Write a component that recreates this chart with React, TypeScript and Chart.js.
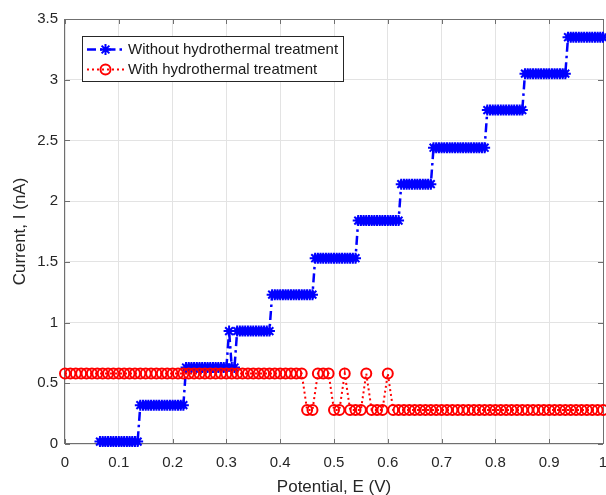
import React, { useEffect, useRef } from 'react';
import { Chart, registerables } from 'chart.js';
import { drawPoint } from 'chart.js/helpers';

Chart.register(...registerables);

// Series names shown in the legend
const seriesNames = ['Without hydrothermal treatment', 'With hydrothermal treatment'];

// Without hydrothermal treatment: potential (V) and current (nA)
const blueE = [
  0.065, 0.07, 0.075, 0.08, 0.085, 0.09, 0.095, 0.1, 0.105, 0.11, 0.115, 0.12, 0.125, 0.13, 0.135,
  0.14, 0.145, 0.15, 0.155, 0.16, 0.165, 0.17, 0.175, 0.18, 0.185, 0.19, 0.195, 0.2, 0.205, 0.21, 0.215, 0.22,
  0.225, 0.23, 0.235, 0.24, 0.245, 0.25, 0.255, 0.26, 0.265, 0.27, 0.275, 0.28, 0.285, 0.29, 0.295, 0.3,
  0.305, 0.31, 0.315,
  0.32, 0.325, 0.33, 0.335, 0.34, 0.345, 0.35, 0.355, 0.36, 0.365, 0.37, 0.375, 0.38,
  0.385, 0.39, 0.395, 0.4, 0.405, 0.41, 0.415, 0.42, 0.425, 0.43, 0.435, 0.44, 0.445, 0.45, 0.455, 0.46,
  0.465, 0.47, 0.475, 0.48, 0.485, 0.49, 0.495, 0.5, 0.505, 0.51, 0.515, 0.52, 0.525, 0.53, 0.535, 0.54,
  0.545, 0.55, 0.555, 0.56, 0.565, 0.57, 0.575, 0.58, 0.585, 0.59, 0.595, 0.6, 0.605, 0.61, 0.615, 0.62,
  0.625, 0.63, 0.635, 0.64, 0.645, 0.65, 0.655, 0.66, 0.665, 0.67, 0.675, 0.68,
  0.685, 0.69, 0.695, 0.7, 0.705, 0.71, 0.715, 0.72, 0.725, 0.73, 0.735, 0.74, 0.745, 0.75, 0.755, 0.76, 0.765, 0.77, 0.775, 0.78,
  0.785, 0.79, 0.795, 0.8, 0.805, 0.81, 0.815, 0.82, 0.825, 0.83, 0.835, 0.84, 0.845, 0.85,
  0.855, 0.86, 0.865, 0.87, 0.875, 0.88, 0.885, 0.89, 0.895, 0.9, 0.905, 0.91, 0.915, 0.92, 0.925, 0.93,
  0.935, 0.94, 0.945, 0.95, 0.955, 0.96, 0.965, 0.97, 0.975, 0.98, 0.985, 0.99, 0.995, 1.0,
];
const blueI = [
  0.02, 0.02, 0.02, 0.02, 0.02, 0.02, 0.02, 0.02, 0.02, 0.02, 0.02, 0.02, 0.02, 0.02, 0.02,
  0.32, 0.32, 0.32, 0.32, 0.32, 0.32, 0.32, 0.32, 0.32, 0.32, 0.32, 0.32, 0.32, 0.32, 0.32, 0.32, 0.32,
  0.63, 0.63, 0.63, 0.63, 0.63, 0.63, 0.63, 0.63, 0.63, 0.63, 0.63, 0.63, 0.63, 0.63, 0.63, 0.63,
  0.93, 0.63, 0.63,
  0.93, 0.93, 0.93, 0.93, 0.93, 0.93, 0.93, 0.93, 0.93, 0.93, 0.93, 0.93, 0.93,
  1.23, 1.23, 1.23, 1.23, 1.23, 1.23, 1.23, 1.23, 1.23, 1.23, 1.23, 1.23, 1.23, 1.23, 1.23, 1.23,
  1.53, 1.53, 1.53, 1.53, 1.53, 1.53, 1.53, 1.53, 1.53, 1.53, 1.53, 1.53, 1.53, 1.53, 1.53, 1.53,
  1.84, 1.84, 1.84, 1.84, 1.84, 1.84, 1.84, 1.84, 1.84, 1.84, 1.84, 1.84, 1.84, 1.84, 1.84, 1.84,
  2.14, 2.14, 2.14, 2.14, 2.14, 2.14, 2.14, 2.14, 2.14, 2.14, 2.14, 2.14,
  2.44, 2.44, 2.44, 2.44, 2.44, 2.44, 2.44, 2.44, 2.44, 2.44, 2.44, 2.44, 2.44, 2.44, 2.44, 2.44, 2.44, 2.44, 2.44, 2.44,
  2.75, 2.75, 2.75, 2.75, 2.75, 2.75, 2.75, 2.75, 2.75, 2.75, 2.75, 2.75, 2.75, 2.75,
  3.05, 3.05, 3.05, 3.05, 3.05, 3.05, 3.05, 3.05, 3.05, 3.05, 3.05, 3.05, 3.05, 3.05, 3.05, 3.05,
  3.35, 3.35, 3.35, 3.35, 3.35, 3.35, 3.35, 3.35, 3.35, 3.35, 3.35, 3.35, 3.35, 3.35,
];

// With hydrothermal treatment: potential (V) and current (nA)
const redE = [
  0.0, 0.01, 0.02, 0.03, 0.04, 0.05, 0.06, 0.07, 0.08, 0.09,
  0.1, 0.11, 0.12, 0.13, 0.14, 0.15, 0.16, 0.17, 0.18, 0.19,
  0.2, 0.21, 0.22, 0.23, 0.24, 0.25, 0.26, 0.27, 0.28, 0.29,
  0.3, 0.31, 0.32, 0.33, 0.34, 0.35, 0.36, 0.37, 0.38, 0.39,
  0.4, 0.41, 0.42, 0.43, 0.44, 0.45, 0.46, 0.47, 0.48, 0.49,
  0.5, 0.51, 0.52, 0.53, 0.54, 0.55, 0.56, 0.57, 0.58, 0.59,
  0.6, 0.61, 0.62, 0.63, 0.64, 0.65, 0.66, 0.67, 0.68, 0.69,
  0.7, 0.71, 0.72, 0.73, 0.74, 0.75, 0.76, 0.77, 0.78, 0.79,
  0.8, 0.81, 0.82, 0.83, 0.84, 0.85, 0.86, 0.87, 0.88, 0.89,
  0.9, 0.91, 0.92, 0.93, 0.94, 0.95, 0.96, 0.97, 0.98, 0.99,
  1.0,
];
const redI = [
  0.58, 0.58, 0.58, 0.58, 0.58, 0.58, 0.58, 0.58, 0.58, 0.58,
  0.58, 0.58, 0.58, 0.58, 0.58, 0.58, 0.58, 0.58, 0.58, 0.58,
  0.58, 0.58, 0.58, 0.58, 0.58, 0.58, 0.58, 0.58, 0.58, 0.58,
  0.58, 0.58, 0.58, 0.58, 0.58, 0.58, 0.58, 0.58, 0.58, 0.58,
  0.58, 0.58, 0.58, 0.58, 0.58, 0.28, 0.28, 0.58, 0.58, 0.58,
  0.28, 0.28, 0.58, 0.28, 0.28, 0.28, 0.58, 0.28, 0.28, 0.28,
  0.58, 0.28, 0.28, 0.28, 0.28, 0.28, 0.28, 0.28, 0.28, 0.28,
  0.28, 0.28, 0.28, 0.28, 0.28, 0.28, 0.28, 0.28, 0.28, 0.28,
  0.28, 0.28, 0.28, 0.28, 0.28, 0.28, 0.28, 0.28, 0.28, 0.28,
  0.28, 0.28, 0.28, 0.28, 0.28, 0.28, 0.28, 0.28, 0.28, 0.28,
  0.28,
];

// Axis ticks and titles
const xTickValues = [0, 0.1, 0.2, 0.3, 0.4, 0.5, 0.6, 0.7, 0.8, 0.9, 1];
const xTickLabels = ['0', '0.1', '0.2', '0.3', '0.4', '0.5', '0.6', '0.7', '0.8', '0.9', '1'];
const yTickValues = [0, 0.5, 1, 1.5, 2, 2.5, 3, 3.5];
const yTickLabels = ['0', '0.5', '1', '1.5', '2', '2.5', '3', '3.5'];
const xTitle = 'Potential, E (V)';
const yTitle = 'Current, I (nA)';

const FONT = '"Liberation Sans", Arial, sans-serif';
const AXIS_COLOR = '#262626';

// Box around the plot area with inward tick marks on all four sides
const framePlugin = {
  id: 'axesFrame',
  beforeDatasetsDraw(chart: any) {
    const { ctx, chartArea: a, scales } = chart;
    const len = 5;
    ctx.save();
    ctx.strokeStyle = '#6f6f6f';
    ctx.lineWidth = 1;
    ctx.beginPath();
    xTickValues.forEach((v) => {
      const px = Math.round(scales.x.getPixelForValue(v)) + 0.5;
      ctx.moveTo(px, a.bottom);
      ctx.lineTo(px, a.bottom - len);
      ctx.moveTo(px, a.top);
      ctx.lineTo(px, a.top + len);
    });
    yTickValues.forEach((v) => {
      const py = Math.round(scales.y.getPixelForValue(v)) + 0.5;
      ctx.moveTo(a.left, py);
      ctx.lineTo(a.left + len, py);
      ctx.moveTo(a.right, py);
      ctx.lineTo(a.right - len, py);
    });
    ctx.stroke();
    ctx.strokeRect(Math.round(a.left) - 0.5, Math.round(a.top) + 0.5, Math.round(a.right - a.left) + 1, Math.round(a.bottom - a.top) - 1);
    ctx.restore();
  },
};

// Boxed legend in the upper-left corner of the plot
const boxLegendPlugin = {
  id: 'boxLegend',
  afterDraw(chart: any) {
    const { ctx } = chart;
    const x0 = 82;
    const y0 = 36;
    const w = 261;
    const h = 45;
    ctx.save();
    ctx.fillStyle = '#ffffff';
    ctx.fillRect(x0, y0, w, h);
    ctx.strokeStyle = AXIS_COLOR;
    ctx.lineWidth = 1;
    ctx.strokeRect(x0 + 0.5, y0 + 0.5, w, h);
    chart.data.datasets.forEach((ds: any, i: number) => {
      const y = y0 + 13.5 + i * 20;
      ctx.strokeStyle = ds.borderColor;
      ctx.lineWidth = ds.borderWidth;
      ctx.setLineDash(ds.borderDash);
      ctx.beginPath();
      ctx.moveTo(87, y);
      ctx.lineTo(124, y);
      ctx.stroke();
      ctx.setLineDash([]);
      ctx.lineWidth = ds.pointBorderWidth;
      ctx.fillStyle = 'rgba(0,0,0,0)';
      drawPoint(ctx, { pointStyle: ds.pointStyle, radius: ds.pointRadius, borderWidth: ds.pointBorderWidth, rotation: 0 }, 105.5, y);
      ctx.fillStyle = '#1a1a1a';
      ctx.font = `15px ${FONT}`;
      ctx.textBaseline = 'middle';
      ctx.textAlign = 'left';
      ctx.fillText(ds.label, 128, y + 0.5);
    });
    ctx.restore();
  },
};

export default function App() {
  const canvasRef = useRef<HTMLCanvasElement>(null);

  useEffect(() => {
    const canvas = canvasRef.current;
    if (!canvas) return;
    const chart = new Chart(canvas, {
      type: 'line',
      data: {
        datasets: [
          {
            label: seriesNames[0],
            data: blueE.map((e, i) => ({ x: e, y: blueI[i] })),
            borderColor: '#0000ff',
            backgroundColor: 'rgba(0,0,0,0)',
            borderWidth: 2.5,
            borderDash: [9, 4, 2.5, 4],
            pointStyle: 'star',
            pointRadius: 5.5,
            pointBorderWidth: 2,
            pointBorderColor: '#0000ff',
            pointBackgroundColor: 'rgba(0,0,0,0)',
            tension: 0,
            order: 1,
            clip: 12,
          },
          {
            label: seriesNames[1],
            data: redE.map((e, i) => ({ x: e, y: redI[i] })),
            borderColor: '#ff0000',
            backgroundColor: 'rgba(0,0,0,0)',
            borderWidth: 2,
            borderDash: [2, 3],
            pointStyle: 'circle',
            pointRadius: 5,
            pointBorderWidth: 2,
            pointBorderColor: '#ff0000',
            pointBackgroundColor: 'rgba(0,0,0,0)',
            tension: 0,
            order: 0,
            clip: 12,
          },
        ] as any,
      },
      options: {
        responsive: false,
        animation: false,
        devicePixelRatio: 1,
        layout: { autoPadding: false, padding: { top: 19, right: 3, bottom: 0, left: 0 } },
        plugins: {
          legend: { display: false },
          tooltip: { enabled: false },
        },
        scales: {
          x: {
            type: 'linear',
            min: 0,
            max: 1,
            afterBuildTicks: (scale: any) => {
              scale.ticks = xTickValues.map((v) => ({ value: v }));
            },
            afterFit: (scale: any) => {
              scale.height = 51;
              scale.paddingLeft = 0;
              scale.paddingRight = 0;
            },
            grid: { color: '#e3e3e3', lineWidth: 1, drawTicks: false },
            border: { display: false },
            ticks: {
              padding: 10,
              color: AXIS_COLOR,
              font: { family: FONT, size: 15 },
              maxRotation: 0,
              autoSkip: false,
              callback: (_v: any, i: number) => xTickLabels[i],
            },
            title: {
              display: true,
              text: xTitle,
              color: AXIS_COLOR,
              font: { family: FONT, size: 17, lineHeight: 0.9 },
              padding: { top: 0, bottom: 0 },
            },
          },
          y: {
            type: 'linear',
            min: 0,
            max: 3.5,
            afterBuildTicks: (scale: any) => {
              scale.ticks = yTickValues.map((v) => ({ value: v }));
            },
            afterFit: (scale: any) => {
              scale.width = 65;
            },
            grid: { color: '#e3e3e3', lineWidth: 1, drawTicks: false },
            border: { display: false },
            ticks: {
              padding: 7,
              color: AXIS_COLOR,
              font: { family: FONT, size: 15 },
              autoSkip: false,
              callback: (_v: any, i: number) => yTickLabels[i],
            },
            title: {
              display: true,
              text: yTitle,
              color: AXIS_COLOR,
              font: { family: FONT, size: 17, lineHeight: 1 },
              padding: { top: 12, bottom: 0 },
            },
          },
        },
      },
      plugins: [framePlugin, boxLegendPlugin],
    });
    return () => chart.destroy();
  }, []);

  return (
    <div style={{ position: 'absolute', left: 0, top: 0, width: 606, height: 495, background: '#ffffff' }}>
      <canvas ref={canvasRef} width={606} height={495} style={{ display: 'block' }} />
    </div>
  );
}
